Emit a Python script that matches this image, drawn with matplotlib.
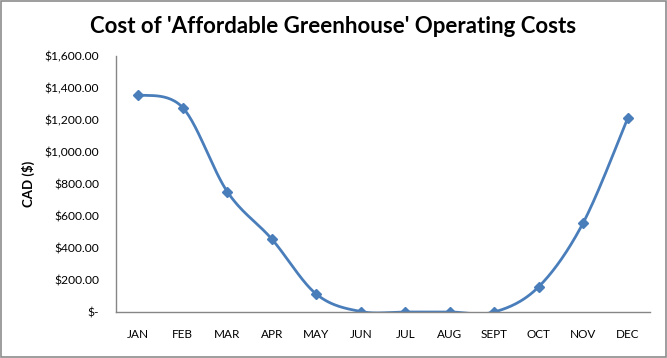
import numpy as np
import matplotlib
matplotlib.use("Agg")
import matplotlib.pyplot as plt
from matplotlib.patches import Rectangle

months = ["JAN", "FEB", "MAR", "APR", "MAY", "JUN", "JUL", "AUG", "SEPT", "OCT", "NOV", "DEC"]
cost = [1358, 1277, 752, 456, 112, 3, 0, 0, 0, 158, 558, 1212]
yticks = [0, 200, 400, 600, 800, 1000, 1200, 1400, 1600]


def fmt(v):
    return "$-" if v == 0 else "${:,.2f}".format(v)


def smooth(y, n=30):
    # excel-like smoothed line (catmull-rom bezier)
    y = np.asarray(y, float)
    x = np.arange(len(y), dtype=float)
    px = np.concatenate([[x[0]], x, [x[-1]]])
    py = np.concatenate([[y[0]], y, [y[-1]]])
    xs, ys = [], []
    t = np.linspace(0, 1, n)
    for i in range(1, len(px) - 2):
        p0 = np.array([px[i], py[i]])
        p3 = np.array([px[i + 1], py[i + 1]])
        p1 = p0 + (np.array([px[i + 1], py[i + 1]]) - np.array([px[i - 1], py[i - 1]])) / 6
        p2 = p3 - (np.array([px[i + 2], py[i + 2]]) - np.array([px[i], py[i]])) / 6
        b = ((1 - t) ** 3)[:, None] * p0 + (3 * (1 - t) ** 2 * t)[:, None] * p1 \
            + (3 * (1 - t) * t ** 2)[:, None] * p2 + (t ** 3)[:, None] * p3
        xs.extend(b[:, 0])
        ys.extend(b[:, 1])
    return np.array(xs), np.array(ys)


plt.rcParams['font.family'] = ['Lato', 'DejaVu Sans']

fig = plt.figure(figsize=(6.67, 3.58), dpi=100)
fig.patches.append(Rectangle((0.001, 0.004), 0.997, 0.993, transform=fig.transFigure,
                             fill=False, edgecolor="#8c8c8c", linewidth=1.2))
ax = fig.add_axes([0.174, 0.1285, 0.8005, 0.715])

color = "#4a7ebb"
sx, sy = smooth(cost)
ax.plot(sx, sy, color=color, linewidth=2.0, solid_capstyle="round")
ax.plot(range(len(months)), cost, linestyle="none", marker="D", markersize=5.5, color=color)

ax.set_xlim(-0.5, len(months) - 0.5)
ax.set_ylim(0, 1600)
ax.set_yticks(yticks)
ax.set_yticklabels([fmt(v) for v in yticks], fontsize=8.7)
ax.set_xticks(range(len(months)))
ax.set_xticklabels(months, fontsize=8.5)
ax.tick_params(length=0)
ax.tick_params(axis="y", pad=12)
ax.tick_params(axis="x", pad=12)

for s in ["top", "right"]:
    ax.spines[s].set_visible(False)
for s in ["left", "bottom"]:
    ax.spines[s].set_color("#868686")
    ax.spines[s].set_linewidth(1.0)

ax.set_ylabel("CAD ($)", fontsize=9.5, fontweight="bold", labelpad=7)
fig.text(0.5, 0.925, "Cost of 'Affordable Greenhouse' Operating Costs", ha="center", va="center",
         fontsize=16, fontweight="bold")

fig.savefig("out.png", dpi=100)
